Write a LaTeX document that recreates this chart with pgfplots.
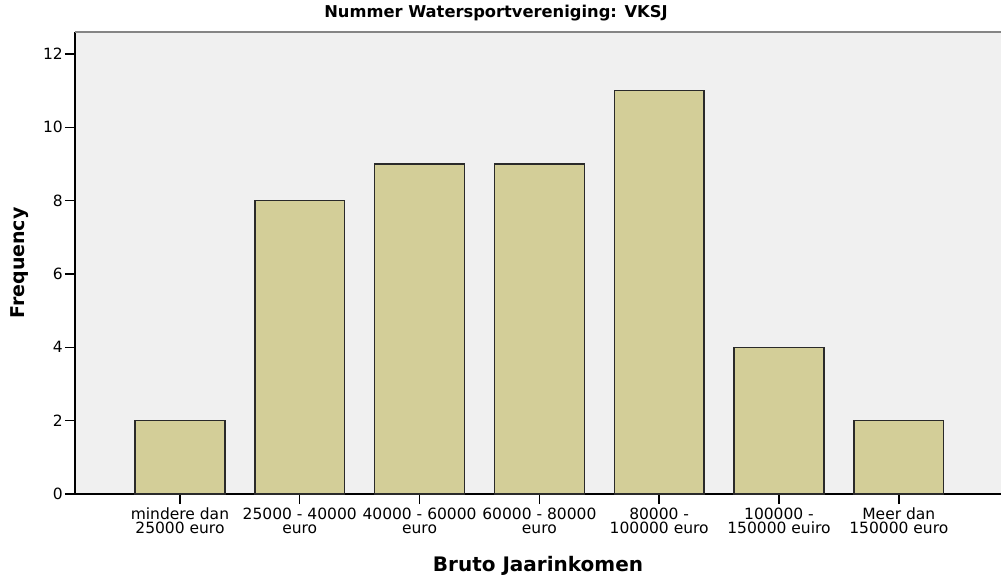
\documentclass[border=0pt]{standalone}
\usepackage{fontspec}
\setmainfont{DejaVu Sans}
\usepackage{pgfplots}
\pgfplotsset{compat=1.18}
\definecolor{barfill}{HTML}{D3CE98}
\definecolor{plotbg}{HTML}{F0F0F0}
\definecolor{barline}{HTML}{2A2A2A}
\definecolor{topline}{HTML}{858585}

\begin{document}
\begin{tikzpicture}
\begin{axis}[
  scale only axis, width=926pt, height=462pt,
  xmin=-0.876, xmax=6.853, ymin=0, ymax=12.6,
  axis x line*=bottom, axis y line*=left,
  axis line style={line width=1.6pt, black, -},
  axis background/.style={fill=plotbg},
  ybar, bar width=0.75,
  xtick={0,...,6}, ytick={0,2,...,12},
  xticklabels={mindere dan\\25000 euro, 25000 - 40000\\euro, 40000 - 60000\\euro,
    60000 - 80000\\euro, 80000 -\\100000 euro, 100000 -\\150000 euiro, Meer dan\\150000 euro},
  tick align=outside, major tick length=10pt,
  tick style={line width=1.4pt, black},
  ticklabel style={font=\fontsize{15.5}{14.5}\selectfont},
  xticklabel style={align=center},
  yticklabel style={inner xsep=2pt},
  /pgf/number format/assume math mode=true,
  title={Nummer Watersportvereniging: VKSJ},
  title style={at={(axis description cs:0.4546,1.0188)}, anchor=base,
    font=\bfseries\fontsize{16.3}{16}\selectfont},
  xlabel={Bruto Jaarinkomen},
  xlabel style={at={(axis description cs:0.5,-0.1688)}, anchor=base,
    font=\bfseries\fontsize{20}{20}\selectfont},
  ylabel={Frequency},
  ylabel style={at={(axis description cs:-0.054,0.5)}, anchor=base,
    font=\bfseries\fontsize{19}{19}\selectfont},
]
\addplot[ybar, fill=barfill, draw=barline, line width=1.5pt]
  coordinates {(0,2) (1,8) (2,9) (3,9) (4,11) (5,4) (6,2)};
\draw[topline, line width=1.6pt] (rel axis cs:0,1) -- (rel axis cs:1,1);
\end{axis}
\pgfresetboundingbox
\path[use as bounding box] (-75pt,-82pt) rectangle (926pt,494pt);
\end{tikzpicture}
\end{document}
